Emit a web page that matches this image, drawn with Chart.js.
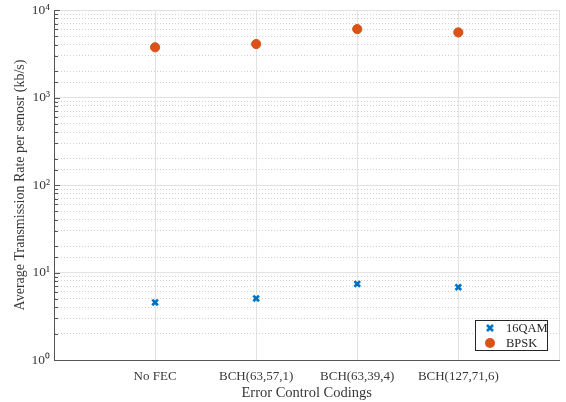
<!DOCTYPE html>
<html>
<head>
<meta charset="utf-8">
<script src="https://cdn.jsdelivr.net/npm/chart.js@4.4.1/dist/chart.umd.min.js"></script>
<style>
  html, body { margin: 0; padding: 0; background: #fff; }
  #wrap { width: 566px; height: 402px; }
</style>
</head>
<body>
<div id="wrap"><canvas id="rate-chart" width="566" height="402"></canvas></div>
<script>
// data
const codings = ["No FEC", "BCH(63,57,1)", "BCH(63,39,4)", "BCH(127,71,6)"];
const qam16 = [4.55, 5.05, 7.4, 6.8];
const bpsk = [3750, 4080, 6050, 5550];
const decadeLabels = ["10\u2070", "10\u00b9", "10\u00b2", "10\u00b3", "10\u2074"];

const gray = "#555";
const serif = "'Liberation Serif', 'Times New Roman', serif";

function points(values) {
  return values.map((v, i) => ({ x: i + 1, y: v }));
}

function isDecade(v) {
  const e = Math.log10(v);
  return Math.abs(e - Math.round(e)) < 1e-9;
}

// small inward tick marks on the left axis (matlab style)
const inwardTicks = {
  id: "inwardTicks",
  afterDraw(chart) {
    const ctx = chart.ctx;
    const y = chart.scales.y;
    const left = chart.chartArea.left;
    ctx.save();
    ctx.strokeStyle = gray;
    ctx.lineWidth = 1;
    y.ticks.forEach((t) => {
      const py = Math.round(y.getPixelForValue(t.value)) + 0.5;
      const len = isDecade(t.value) ? 6 : 4;
      ctx.beginPath();
      ctx.moveTo(left, py);
      ctx.lineTo(left + len, py);
      ctx.stroke();
    });
    ctx.restore();
  }
};

// legend box drawn inside the plot, bottom right
const insideLegend = {
  id: "insideLegend",
  afterDraw(chart) {
    const ctx = chart.ctx;
    const area = chart.chartArea;
    const w = 72, h = 30;
    const x0 = Math.round(area.right - 12 - w), y0 = Math.round(area.bottom - 10 - h);
    ctx.save();
    ctx.fillStyle = "#fff";
    ctx.fillRect(x0, y0, w, h);
    ctx.strokeStyle = "#262626";
    ctx.lineWidth = 1;
    ctx.strokeRect(x0 + 0.5, y0 + 0.5, w, h);
    ctx.font = "12.5px " + serif;
    ctx.textBaseline = "middle";
    chart.data.datasets.forEach((ds, i) => {
      const cy = y0 + 8 + i * 15;
      const mx = x0 + 15;
      ctx.strokeStyle = ds.borderColor;
      ctx.fillStyle = ds.backgroundColor;
      if (ds.pointStyle === "crossRot") {
        ctx.lineWidth = ds.borderWidth;
        ctx.beginPath();
        ctx.moveTo(mx - 3, cy - 3); ctx.lineTo(mx + 3, cy + 3);
        ctx.moveTo(mx + 3, cy - 3); ctx.lineTo(mx - 3, cy + 3);
        ctx.stroke();
      } else {
        ctx.beginPath();
        ctx.arc(mx, cy, 5, 0, Math.PI * 2);
        ctx.fill();
      }
      ctx.fillStyle = "#262626";
      ctx.fillText(ds.label, x0 + 31, cy + 1);
    });
    ctx.restore();
  }
};

const ctx = document.getElementById("rate-chart").getContext("2d");
new Chart(ctx, {
  type: "scatter",
  data: {
    datasets: [
      {
        label: "16QAM",
        data: points(qam16),
        pointStyle: "crossRot",
        pointRadius: 4,
        borderWidth: 2.6,
        borderColor: "#0072bd",
        backgroundColor: "#0072bd",
      },
      {
        label: "BPSK",
        data: points(bpsk),
        pointStyle: "circle",
        pointRadius: 4.6,
        borderWidth: 1,
        borderColor: "#d95319",
        backgroundColor: "#d95319",
      },
    ],
  },
  options: {
    responsive: false,
    animation: false,
    layout: { padding: { top: 10, right: 5, left: 0, bottom: 0 } },
    scales: {
      x: {
        type: "linear",
        min: 0,
        max: 5,
        afterBuildTicks: (scale) => {
          scale.ticks = [0, 1, 2, 3, 4, 5].map((v) => ({ value: v }));
        },
        afterFit: (scale) => {
          scale.height = 42;
          scale.paddingLeft = 0;
          scale.paddingRight = 0;
        },
        grid: {
          drawTicks: false,
          color: (c) => (c.tick && c.tick.value === 0 ? "rgba(0,0,0,0)" : "#e2e2e2"),
        },
        border: { color: gray, width: 1 },
        ticks: {
          autoSkip: false,
          maxRotation: 0,
          padding: 9,
          color: "#383838",
          font: { family: serif, size: 13 },
          callback: (v) => codings[v - 1] || "",
        },
        title: {
          display: true,
          text: "Error Control Codings",
          color: "#383838",
          font: { family: serif, size: 14.5 },
          padding: { top: 0, bottom: 0 },
        },
      },
      y: {
        type: "logarithmic",
        min: 1,
        max: 10000,
        afterFit: (scale) => {
          scale.width = 54;
          scale.paddingTop = 0;
          scale.paddingBottom = 0;
        },
        grid: {
          drawTicks: false,
          color: (c) => {
            if (!c.tick) return "#e2e2e2";
            return isDecade(c.tick.value) ? "#e2e2e2" : "#cfcfcf";
          },
        },
        border: {
          color: gray,
          width: 1,
          dash: (c) => {
            if (!c.tick) return [];
            return isDecade(c.tick.value) ? [] : [1, 2];
          },
        },
        ticks: {
          autoSkip: false,
          padding: 4,
          color: "#383838",
          font: { family: serif, size: 13.5 },
          callback: (v) => (isDecade(v) ? decadeLabels[Math.round(Math.log10(v))] : ""),
        },
        title: {
          display: true,
          text: "Average Transmission Rate per senosr (kb/s)",
          color: "#383838",
          font: { family: serif, size: 14 },
          padding: { top: 12, bottom: 0 },
        },
      },
    },
    plugins: {
      legend: { display: false },
      tooltip: { enabled: false },
    },
  },
  plugins: [inwardTicks, insideLegend],
});
</script>
</body>
</html>
